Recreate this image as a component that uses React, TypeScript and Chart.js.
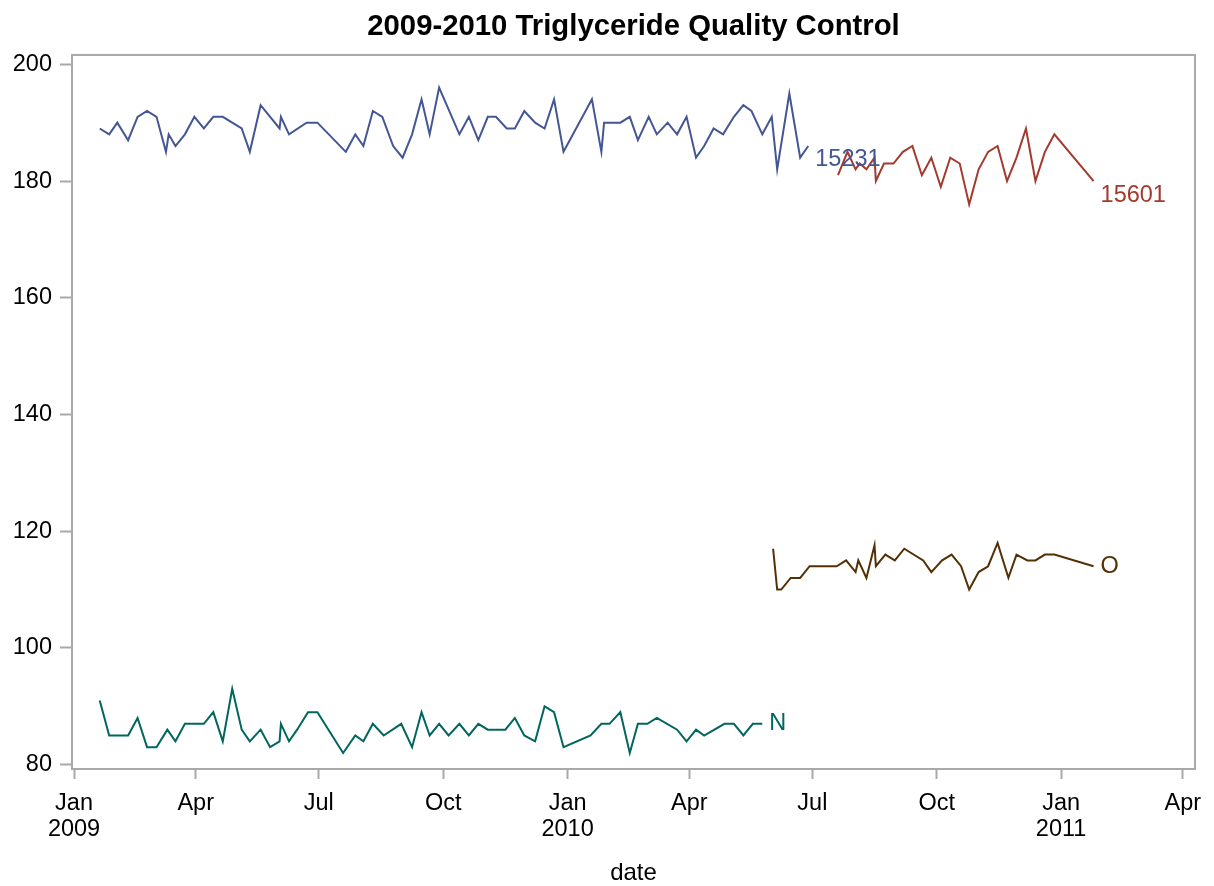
import React, { useEffect, useRef } from "react";
import { Chart, registerables } from "chart.js";

Chart.register(...registerables);

// ---------- data ----------
const lot15231Dates = [
  "2009-01-20", "2009-01-27", "2009-02-02", "2009-02-10", "2009-02-17", "2009-02-24", "2009-03-03", "2009-03-10", "2009-03-12", "2009-03-17",
  "2009-03-24", "2009-03-31", "2009-04-07", "2009-04-14", "2009-04-21", "2009-05-05", "2009-05-11", "2009-05-19", "2009-06-02", "2009-06-03",
  "2009-06-09", "2009-06-22", "2009-06-30", "2009-07-21", "2009-07-28", "2009-08-03", "2009-08-10", "2009-08-17", "2009-08-25", "2009-09-01",
  "2009-09-08", "2009-09-15", "2009-09-21", "2009-09-28", "2009-10-13", "2009-10-20", "2009-10-27", "2009-11-03", "2009-11-09", "2009-11-17",
  "2009-11-23", "2009-11-30", "2009-12-08", "2009-12-15", "2009-12-22", "2009-12-29", "2010-01-19", "2010-01-26", "2010-01-28", "2010-02-09",
  "2010-02-16", "2010-02-22", "2010-03-02", "2010-03-08", "2010-03-16", "2010-03-23", "2010-03-30", "2010-04-06", "2010-04-12", "2010-04-19",
  "2010-04-26", "2010-05-04", "2010-05-11", "2010-05-17", "2010-05-25", "2010-06-01", "2010-06-05", "2010-06-14", "2010-06-22", "2010-06-28",
];
const lot15231Values = [
  189, 188, 190, 187, 191, 192, 191, 185, 188, 186,
  188, 191, 189, 191, 191, 189, 185, 193, 189, 191,
  188, 190, 190, 185, 188, 186, 192, 191, 186, 184,
  188, 194, 188, 196, 188, 191, 187, 191, 191, 189,
  189, 192, 190, 189, 194, 185, 194, 185, 190, 190,
  191, 187, 191, 188, 190, 188, 191, 184, 186, 189,
  188, 191, 193, 192, 188, 191, 182, 195, 184, 186,
];

const lot15601Dates = [
  "2010-07-20", "2010-07-27", "2010-08-02", "2010-08-05", "2010-08-10", "2010-08-16", "2010-08-17", "2010-08-23", "2010-08-30", "2010-09-06",
  "2010-09-13", "2010-09-20", "2010-09-27", "2010-10-04", "2010-10-11", "2010-10-18", "2010-10-25", "2010-11-01", "2010-11-08", "2010-11-15",
  "2010-11-22", "2010-11-29", "2010-12-06", "2010-12-13", "2010-12-20", "2010-12-27", "2011-01-25",
];
const lot15601Values = [
  181, 185, 182, 183, 182, 184, 180, 183, 183, 185,
  186, 181, 184, 179, 184, 183, 176, 182, 185, 186,
  180, 184, 189, 180, 185, 188, 180,
];

const lotNDates = [
  "2009-01-20", "2009-01-27", "2009-02-10", "2009-02-17", "2009-02-24", "2009-03-03", "2009-03-11", "2009-03-17", "2009-03-24", "2009-04-07",
  "2009-04-14", "2009-04-21", "2009-04-28", "2009-05-05", "2009-05-11", "2009-05-19", "2009-05-26", "2009-06-02", "2009-06-03", "2009-06-09",
  "2009-06-15", "2009-06-23", "2009-06-30", "2009-07-19", "2009-07-28", "2009-08-03", "2009-08-10", "2009-08-18", "2009-08-31", "2009-09-08",
  "2009-09-15", "2009-09-21", "2009-09-28", "2009-10-05", "2009-10-13", "2009-10-20", "2009-10-27", "2009-11-03", "2009-11-16", "2009-11-23",
  "2009-11-30", "2009-12-08", "2009-12-15", "2009-12-22", "2009-12-29", "2010-01-18", "2010-01-26", "2010-02-01", "2010-02-09", "2010-02-16",
  "2010-02-22", "2010-03-01", "2010-03-08", "2010-03-23", "2010-03-30", "2010-04-06", "2010-04-12", "2010-04-27", "2010-05-04", "2010-05-11",
  "2010-05-18", "2010-05-25",
];
const lotNValues = [
  91, 85, 85, 88, 83, 83, 86, 84, 87, 87,
  89, 84, 93, 86, 84, 86, 83, 84, 87, 84,
  86, 89, 89, 82, 85, 84, 87, 85, 87, 83,
  89, 85, 87, 85, 87, 85, 87, 86, 86, 88,
  85, 84, 90, 89, 83, 85, 87, 87, 89, 82,
  87, 87, 88, 86, 84, 86, 85, 87, 87, 85,
  87, 87,
];

const lotODates = [
  "2010-06-02", "2010-06-05", "2010-06-08", "2010-06-15", "2010-06-22", "2010-06-29", "2010-07-19", "2010-07-26", "2010-08-02", "2010-08-04",
  "2010-08-10", "2010-08-16", "2010-08-17", "2010-08-24", "2010-08-31", "2010-09-07", "2010-09-21", "2010-09-27", "2010-10-05", "2010-10-12",
  "2010-10-19", "2010-10-25", "2010-11-01", "2010-11-08", "2010-11-15", "2010-11-23", "2010-11-29", "2010-12-07", "2010-12-13", "2010-12-20",
  "2010-12-27", "2011-01-25",
];
const lotOValues = [
  117, 110, 110, 112, 112, 114, 114, 115, 113, 115,
  112, 117.6, 114, 116, 115, 117, 115, 113, 115, 116,
  114, 110, 113, 114, 118, 112, 116, 115, 115, 116,
  116, 114,
];

const xTickDates = [
  "2009-01-01", "2009-04-01", "2009-07-01", "2009-10-01", "2010-01-01",
  "2010-04-01", "2010-07-01", "2010-10-01", "2011-01-01", "2011-04-01",
];
const xTickLabels: (string | string[])[] = [
  ["Jan", "2009"], "Apr", "Jul", "Oct", ["Jan", "2010"],
  "Apr", "Jul", "Oct", ["Jan", "2011"], "Apr",
];
const yTickValues = [80, 100, 120, 140, 160, 180, 200];

const seriesNames = ["15231", "15601", "N", "O"];

// ---------- helpers / styles ----------
const ORIGIN = Date.UTC(2009, 0, 1);
const toDay = (s: string) => {
  const [y, m, d] = s.split("-").map(Number);
  return (Date.UTC(y, m - 1, d) - ORIGIN) / 86400000;
};
const pts = (dates: string[], values: number[]) =>
  dates.map((d, i) => ({ x: toDay(d), y: values[i] }));

const FONT = '"Liberation Sans", Arial, Helvetica, sans-serif';
const FRAME = "#a9a9a9";
const COLORS = ["#445694", "#A23A2E", "#01665E", "#543005"];
const LABEL_OFFSETS = [
  { dx: 7, dy: 14 },
  { dx: 7, dy: 14 },
  { dx: 7, dy: 0 },
  { dx: 7, dy: 0 },
];

const framePlugin = {
  id: "frameBox",
  beforeDatasetsDraw(chart: any) {
    const { ctx, chartArea: a } = chart;
    ctx.save();
    ctx.strokeStyle = FRAME;
    ctx.lineWidth = 2;
    ctx.strokeRect(a.left, a.top, a.right - a.left, a.bottom - a.top);
    ctx.restore();
  },
};

const endLabelPlugin = {
  id: "endLabels",
  afterDatasetsDraw(chart: any) {
    const { ctx } = chart;
    chart.data.datasets.forEach((ds: any, i: number) => {
      const meta = chart.getDatasetMeta(i);
      const last = meta.data[meta.data.length - 1];
      if (!last) return;
      const off = LABEL_OFFSETS[i];
      ctx.save();
      ctx.font = `23.5px ${FONT}`;
      ctx.fillStyle = ds.borderColor;
      ctx.textAlign = "left";
      ctx.textBaseline = "middle";
      ctx.fillText(ds.label, last.x + off.dx, last.y + off.dy);
      ctx.restore();
    });
  },
};

export default function App() {
  const canvasRef = useRef<HTMLCanvasElement | null>(null);

  useEffect(() => {
    if (!canvasRef.current) return;
    const seriesData = [
      pts(lot15231Dates, lot15231Values),
      pts(lot15601Dates, lot15601Values),
      pts(lotNDates, lotNValues),
      pts(lotODates, lotOValues),
    ];
    const xTickDays = xTickDates.map(toDay);

    const chart = new Chart(canvasRef.current, {
      type: "line",
      data: {
        datasets: seriesData.map((d, i) => ({
          label: seriesNames[i],
          data: d,
          borderColor: COLORS[i],
          backgroundColor: COLORS[i],
          borderWidth: 2,
          pointRadius: 0,
          tension: 0,
          fill: false,
        })),
      },
      options: {
        animation: false,
        responsive: false,
        devicePixelRatio: 1,
        layout: { padding: { left: 0, right: 19, top: 0, bottom: 0 } },
        plugins: {
          legend: { display: false },
          tooltip: { enabled: false },
          title: {
            display: true,
            text: "2009-2010 Triglyceride Quality Control",
            fullSize: false,
            color: "#000",
            font: { family: FONT, size: 29.3, weight: "bold", lineHeight: 1.2 },
            padding: { top: 9, bottom: 10.8 },
          },
        },
        scales: {
          x: {
            type: "linear",
            min: -1.5,
            max: 829,
            afterFit: (s: any) => {
              s.height = 117;
            },
            afterBuildTicks: (s: any) => {
              s.ticks = xTickDays.map((v) => ({ value: v }));
            },
            ticks: {
              autoSkip: false,
              maxRotation: 0,
              minRotation: 0,
              padding: 12,
              color: "#000",
              font: { family: FONT, size: 23.5, lineHeight: 1.1 },
              callback: (_v: any, idx: number) => xTickLabels[idx],
            },
            grid: {
              display: true,
              drawOnChartArea: false,
              drawTicks: true,
              tickLength: 10,
              tickColor: FRAME,
              tickWidth: 2,
            },
            border: { display: false },
            title: {
              display: true,
              text: "date",
              color: "#000",
              font: { family: FONT, size: 24, lineHeight: 1 },
              padding: { top: 0, bottom: 1 },
            },
          },
          y: {
            type: "linear",
            min: 79.26,
            max: 201.6,
            afterFit: (s: any) => {
              s.width = 72;
            },
            afterBuildTicks: (s: any) => {
              s.ticks = yTickValues.map((v) => ({ value: v }));
            },
            ticks: {
              padding: 8,
              color: "#000",
              font: { family: FONT, size: 23.5 },
            },
            grid: {
              display: true,
              drawOnChartArea: false,
              drawTicks: true,
              tickLength: 12,
              tickColor: FRAME,
              tickWidth: 2,
            },
            border: { display: false },
          },
        },
      },
      plugins: [framePlugin, endLabelPlugin],
    } as any);

    return () => chart.destroy();
  }, []);

  return (
    <div
      style={{
        position: "absolute",
        left: 0,
        top: 0,
        width: 1214,
        height: 886,
        background: "#fff",
      }}
    >
      <canvas ref={canvasRef} width={1214} height={886} />
    </div>
  );
}
